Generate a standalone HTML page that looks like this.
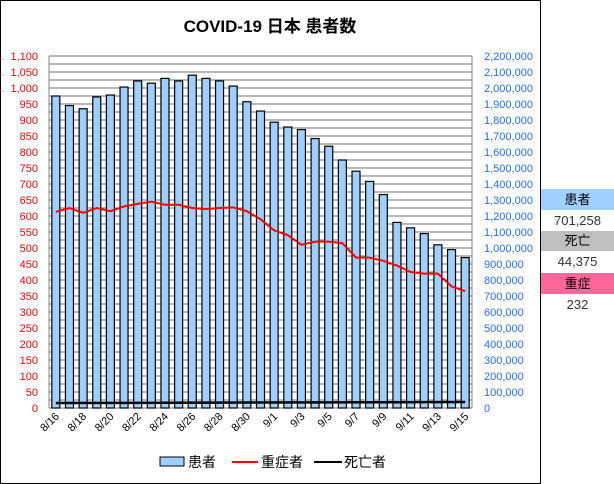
<!DOCTYPE html>
<html><head><meta charset="utf-8"><style>
body{margin:0;width:614px;height:484px;background:#fff;overflow:hidden;font-family:"Liberation Sans","Noto Sans CJK JP",sans-serif}
svg text{font-family:"Liberation Sans","Noto Sans CJK JP",sans-serif}
.p{position:absolute;left:541px;width:73px;text-align:center;font-size:13px}
</style></head><body>
<svg id="s" width="614" height="484" style="position:absolute;left:0;top:0"></svg>
<div class="p" style="top:189px;height:21px;line-height:21px;background:#9fd0ff">患者</div>
<div class="p" style="top:210px;height:21px;line-height:21px;color:#333">701,258</div>
<div class="p" style="top:231px;height:20px;line-height:20px;background:#bfbfbf">死亡</div>
<div class="p" style="top:251px;height:22px;line-height:22px;color:#333">44,375</div>
<div class="p" style="top:273px;height:21px;line-height:21px;background:#ff6699">重症</div>
<div class="p" style="top:294px;height:21px;line-height:21px;color:#333">232</div>
<script>
var s='';
var x0=49,x1=472,y0=408,k=0.32;
function Y(v){return y0-v*k;}
s+='<rect x="0.5" y="0.5" width="540" height="483" fill="#fff" stroke="#000"/>';
s+='<text x="270" y="32" text-anchor="middle" font-size="17" font-weight="bold">COVID-19 日本 患者数</text>';
for(var v=0;v<=1100;v+=25){var y=Y(v);s+='<line x1="'+x0+'" x2="'+x1+'" y1="'+y+'" y2="'+y+'" stroke="#707070" stroke-width="1"/>';}
for(var v=0;v<=1100;v+=50){var y=Y(v)+4;
s+='<text x="38" y="'+y+'" text-anchor="end" font-size="11" fill="#ff0000">'+(v>=1000?'1,'+String(v-1000).padStart(3,'0'):v)+'</text>';
var r=v*2000;s+='<text x="484" y="'+y+'" font-size="11" fill="#1f6fff">'+r.toLocaleString('en-US')+'</text>';}
s+='<line x1="'+x0+'" x2="'+x0+'" y1="'+Y(1100)+'" y2="'+y0+'" stroke="#808080"/>';
s+='<line x1="'+x1+'" x2="'+x1+'" y1="'+Y(1100)+'" y2="'+y0+'" stroke="#808080"/>';
var b=[975,945,935,972,978,1003,1022,1015,1030,1022,1040,1030,1022,1006,957,928,893,878,870,842,818,775,740,708,667,580,563,545,510,495,470];
var r=[613,625,610,625,615,630,638,645,635,635,625,622,625,627,615,590,555,540,510,520,520,515,470,470,460,445,425,420,420,380,365];
var w=(x1-x0)/31;
var lab=['8/16','8/18','8/20','8/22','8/24','8/26','8/28','8/30','9/1','9/3','9/5','9/7','9/9','9/11','9/13','9/15'];
for(var i=0;i<31;i++){var cx=x0+w*(i+0.5);
s+='<rect x="'+(cx-4)+'" y="'+Y(b[i])+'" width="8" height="'+(b[i]*k)+'" fill="#9fcfff" stroke="#000" stroke-width="1.2"/>';
if(i%2==0){s+='<text transform="translate('+(cx+4)+',417) rotate(-45)" text-anchor="end" font-size="11">'+lab[i/2]+'</text>';}}
var p='';for(var i=0;i<31;i++){p+=(i?'L':'M')+(x0+w*(i+0.5))+','+Y(r[i]);}
s+='<path d="'+p+'" fill="none" stroke="#ff0000" stroke-width="2"/>';
s+='<line x1="'+(x0+w*0.5)+'" x2="'+(x0+w*30.5)+'" y1="403" y2="402" stroke="#000" stroke-width="2.5"/>';
s+='<rect x="160" y="457" width="24" height="9" fill="#9fcfff" stroke="#000"/><text x="188" y="467" font-size="14">患者</text>';
s+='<line x1="232" x2="258" y1="462" y2="462" stroke="#ff0000" stroke-width="2"/><text x="261" y="467" font-size="14">重症者</text>';
s+='<line x1="314" x2="342" y1="462" y2="462" stroke="#000" stroke-width="2"/><text x="344" y="467" font-size="14">死亡者</text>';
document.getElementById('s').innerHTML=s;
</script>
</body></html>
